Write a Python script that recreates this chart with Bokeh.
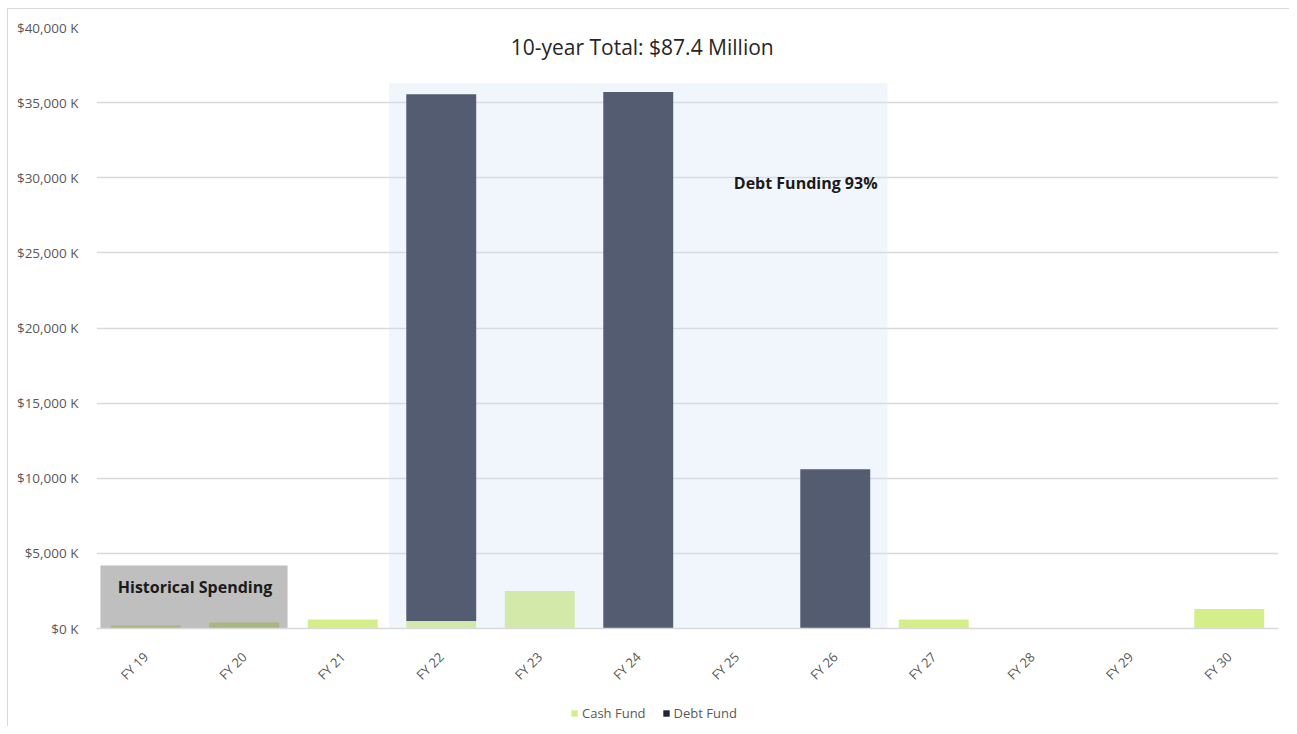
from bokeh.plotting import figure
from bokeh.layouts import column
from bokeh.models import FactorRange, Range1d, FixedTicker, Legend, LegendItem, ColumnDataSource
from bokeh.core.properties import value
from bokeh.embed import file_html
from bokeh.resources import INLINE
import math

categories = ["FY 19", "FY 20", "FY 21", "FY 22", "FY 23", "FY 24",
              "FY 25", "FY 26", "FY 27", "FY 28", "FY 29", "FY 30"]
cash_fund = [200, 400, 600, 500, 2500, 0, 0, 0, 600, 0, 0, 1300]
debt_fund = [0, 0, 0, 35050, 0, 35700, 0, 10600, 0, 0, 0, 0]
series_names = ["Cash Fund", "Debt Fund"]
series_colors = ["#D4EE8A", "#1F2538"]
y_ticks = [0, 5000, 10000, 15000, 20000, 25000, 30000, 35000, 40000]
y_tick_labels = ["$0 K", "$5,000 K", "$10,000 K", "$15,000 K", "$20,000 K",
                 "$25,000 K", "$30,000 K", "$35,000 K", "$40,000 K"]

FONT = "Open Sans"

src = ColumnDataSource(dict(cat=categories, cash=cash_fund, debt=debt_fund))

p = figure(x_range=FactorRange(factors=categories, range_padding=0),
           y_range=Range1d(0, 40000),
           width=1281, height=689,
           output_backend="svg", toolbar_location=None,
           min_border_left=88, min_border_right=11,
           min_border_top=18, min_border_bottom=70)
p.outline_line_color = None
p.background_fill_color = "white"
p.border_fill_color = "white"

# grid
p.xgrid.grid_line_color = None
p.ygrid.grid_line_color = "#D9D9D9"
p.ygrid.grid_line_width = 1.3
p.ygrid.ticker = FixedTicker(ticks=y_ticks)

# y axis
p.yaxis.ticker = FixedTicker(ticks=y_ticks)
p.yaxis.major_label_overrides = {t: l for t, l in zip(y_ticks, y_tick_labels)}
p.yaxis.axis_line_color = None
p.yaxis.major_tick_line_color = None
p.yaxis.minor_tick_line_color = None
p.yaxis.major_label_standoff = 12
p.yaxis.major_label_text_font = FONT
p.yaxis.major_label_text_font_size = "13.5px"
p.yaxis.major_label_text_color = "#595959"

# x axis
p.xaxis.axis_line_color = "#D9D9D9"
p.xaxis.axis_line_width = 1.3
p.xaxis.major_tick_line_color = None
p.xaxis.minor_tick_line_color = None
p.xaxis.major_label_orientation = math.pi / 4
p.xaxis.major_label_standoff = 20
p.xaxis.major_label_text_font = FONT
p.xaxis.major_label_text_font_size = "13px"
p.xaxis.major_label_text_color = "#595959"

# bars
rs = p.vbar_stack(["cash", "debt"], x="cat", width=0.71, source=src,
                  color=series_colors, line_color=None)

# shaded regions drawn over bars
p.quad(left=[("FY 22", -0.53)], right=[("FY 26", 0.53)], bottom=[0], top=[36300],
       fill_color="#D1DFF4", fill_alpha=0.3, line_color=None)
p.quad(left=[("FY 19", -0.46)], right=[("FY 20", 0.44)], bottom=[0], top=[4200],
       fill_color="#777777", fill_alpha=0.47, line_color=None)

# annotations
p.text(x=[("FY 24", 0.04)], y=[38735], text=["10-year Total: $87.4 Million"],
       text_font=value(FONT), text_font_size="21px", text_color="#262626",
       text_align="center", text_baseline="middle")
p.text(x=[("FY 20", -0.5)], y=[2730], text=["Historical Spending"],
       text_font=value(FONT), text_font_size="16px", text_font_style="bold",
       text_color="#1A1A1A", text_align="center", text_baseline="middle")
p.text(x=[("FY 26", -0.3)], y=[29620], text=["Debt Funding 93%"],
       text_font=value(FONT), text_font_size="16px", text_font_style="bold",
       text_color="#1A1A1A", text_align="center", text_baseline="middle")

# legend strip below the chart (swatch glyphs kept outside the visible range)
p2 = figure(width=1281, height=28, output_backend="svg", toolbar_location=None,
            x_range=Range1d(0, 1), y_range=Range1d(0, 1),
            min_border=0, min_border_left=0, min_border_right=0,
            min_border_top=0, min_border_bottom=0)
p2.axis.visible = False
p2.grid.visible = False
p2.outline_line_color = None
p2.border_fill_color = "white"
p2.background_fill_color = "white"
lr = [p2.vbar(x=[5], bottom=[-6], top=[-5], width=0.1, fill_color=c, line_color=None)
      for c in series_colors]
legend = Legend(items=[LegendItem(label=n, renderers=[r]) for n, r in zip(series_names, lr)],
                orientation="horizontal", location=(474, 4))
legend.background_fill_alpha = 0
legend.border_line_color = None
legend.label_text_font = FONT
legend.label_text_font_size = "13px"
legend.label_text_color = "#595959"
legend.glyph_width = 8
legend.glyph_height = 8
legend.label_standoff = 4
legend.spacing = 16
legend.padding = 0
legend.margin = 0
p2.add_layout(legend)

layout = column(p, p2, spacing=0,
                styles={"margin-left": "7px", "margin-top": "8px",
                        "border-left": "1px solid #D9D9D9",
                        "border-top": "1px solid #D9D9D9"})

open("out.html", "w").write(file_html(layout, INLINE))
